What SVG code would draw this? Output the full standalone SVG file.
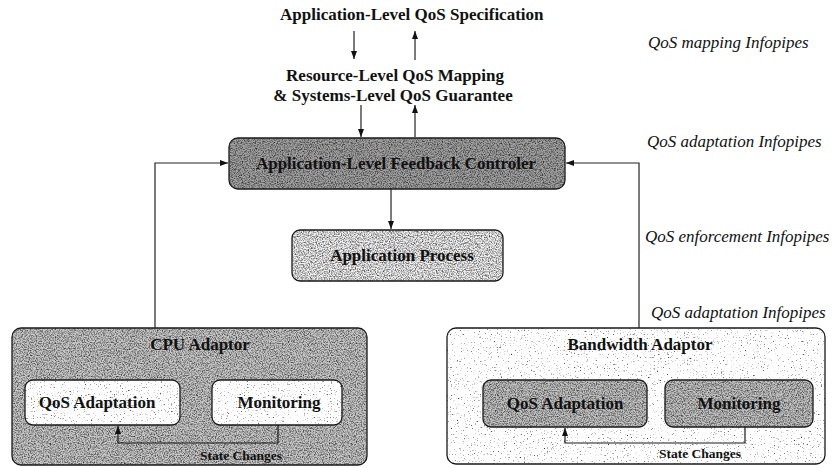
<svg xmlns="http://www.w3.org/2000/svg" width="837" height="468" viewBox="0 0 837 468">
  <defs>
    <style>
      .b { font-family: "Liberation Serif", "Times New Roman", serif; font-weight: bold; font-size: 17px; fill: #111; }
      .sm { font-family: "Liberation Serif", "Times New Roman", serif; font-weight: bold; font-size: 13.5px; fill: #111; }
      .it { font-family: "Liberation Serif", "Times New Roman", serif; font-style: italic; font-size: 17px; fill: #111; }
      .wire { fill: none; stroke: #1a1a1a; stroke-width: 1.2; }
      .edge { fill: none; stroke: #222; stroke-width: 1.2; }
      .frame { fill: none; stroke: #1a1a1a; stroke-width: 1.3; }
    </style>
    <marker id="arr" markerUnits="userSpaceOnUse" markerWidth="8" markerHeight="6" refX="8" refY="3" orient="auto">
      <path d="M0,0 L8,3 L0,6 z" fill="#111"/>
    </marker>
    <!-- halftone-like grain laid over a flat fill -->
    <filter id="grain" x="0" y="0" width="100%" height="100%" color-interpolation-filters="sRGB">
      <feTurbulence type="fractalNoise" baseFrequency="0.85" numOctaves="2" seed="7" result="t"/>
      <feColorMatrix in="t" type="matrix" values="0 0 0 0 0  0 0 0 0 0  0 0 0 0 0  1.6 0 0 0 -0.62" result="spots"/>
      <feComposite in="spots" in2="SourceGraphic" operator="in" result="clipped"/>
      <feMerge><feMergeNode in="SourceGraphic"/><feMergeNode in="clipped"/></feMerge>
    </filter>
    <!-- sparse specks for the pale panels -->
    <filter id="speck" x="0" y="0" width="100%" height="100%" color-interpolation-filters="sRGB">
      <feTurbulence type="fractalNoise" baseFrequency="0.7" numOctaves="2" seed="11" result="t"/>
      <feColorMatrix in="t" type="matrix" values="0 0 0 0 0  0 0 0 0 0  0 0 0 0 0  3.2 0 0 0 -2.05" result="spots"/>
      <feComposite in="spots" in2="SourceGraphic" operator="in" result="clipped"/>
      <feMerge><feMergeNode in="SourceGraphic"/><feMergeNode in="clipped"/></feMerge>
    </filter>
  </defs>

  <rect width="837" height="468" fill="#ffffff"/>

  <!-- side annotations -->
  <g id="layer-labels">
    <text class="it" x="648" y="48">QoS mapping Infopipes</text>
    <text class="it" x="647" y="147">QoS adaptation Infopipes</text>
    <text class="it" x="645" y="242">QoS enforcement Infopipes</text>
    <text class="it" x="651" y="318">QoS adaptation Infopipes</text>
  </g>

  <g id="app-spec">
    <text class="b" x="280" y="20">Application-Level QoS Specification</text>
  </g>

  <g id="resource-mapping">
    <text class="b" x="395" y="81" text-anchor="middle">Resource-Level QoS Mapping</text>
    <text class="b" x="393" y="101" text-anchor="middle">&amp; Systems-Level QoS Guarantee</text>
  </g>

  <g id="feedback-controller">
    <rect x="229" y="138" width="336" height="51" rx="9" fill="#a4a4a4" filter="url(#grain)"/>
    <rect x="229" y="138" width="336" height="51" rx="9" class="frame" stroke-width="1.5"/>
    <text class="b" x="396" y="169" text-anchor="middle">Application-Level Feedback Controler</text>
  </g>

  <g id="application-process">
    <rect x="292" y="230" width="211" height="51" rx="8" fill="#f2f2f2" filter="url(#grain)"/>
    <rect x="292" y="230" width="211" height="51" rx="8" class="frame"/>
    <text class="b" x="402" y="261" text-anchor="middle">Application Process</text>
  </g>

  <g id="cpu-adaptor">
    <rect x="12" y="328" width="355" height="137" rx="9" fill="#cacaca" filter="url(#grain)"/>
    <rect x="12" y="328" width="355" height="137" rx="9" class="frame"/>
    <text class="b" x="200" y="350" text-anchor="middle">CPU Adaptor</text>
    <g id="cpu-qos-adaptation">
      <rect x="25" y="380" width="155" height="45" rx="8" fill="#fdfdfd" filter="url(#speck)"/>
      <rect x="25" y="380" width="155" height="45" rx="8" class="frame"/>
      <text class="b" x="97" y="408" text-anchor="middle">QoS Adaptation</text>
    </g>
    <g id="cpu-monitoring">
      <rect x="212" y="380" width="130" height="45" rx="8" fill="#fdfdfd" filter="url(#speck)"/>
      <rect x="212" y="380" width="130" height="45" rx="8" class="frame"/>
      <text class="b" x="279" y="408" text-anchor="middle">Monitoring</text>
    </g>
    <polyline class="wire" points="278,425 278,443 118,443 118,426" marker-end="url(#arr)"/>
    <text class="sm" x="241" y="460" text-anchor="middle">State Changes</text>
  </g>

  <g id="bandwidth-adaptor">
    <rect x="447" y="328" width="378" height="136" rx="9" fill="#ffffff" filter="url(#speck)"/>
    <rect x="447" y="328" width="378" height="136" rx="9" class="frame"/>
    <text class="b" x="640" y="350" text-anchor="middle">Bandwidth Adaptor</text>
    <g id="bw-qos-adaptation">
      <rect x="483" y="380" width="164" height="47" rx="8" fill="#c4c4c4" filter="url(#grain)"/>
      <rect x="483" y="380" width="164" height="47" rx="8" class="frame"/>
      <text class="b" x="565" y="409" text-anchor="middle">QoS Adaptation</text>
    </g>
    <g id="bw-monitoring">
      <rect x="665" y="380" width="148" height="47" rx="8" fill="#c4c4c4" filter="url(#grain)"/>
      <rect x="665" y="380" width="148" height="47" rx="8" class="frame"/>
      <text class="b" x="739" y="409" text-anchor="middle">Monitoring</text>
    </g>
    <polyline class="wire" points="745,427 745,443 565,443 565,428" marker-end="url(#arr)"/>
    <text class="sm" x="700" y="458" text-anchor="middle">State Changes</text>
  </g>

  <g id="connectors">
    <line class="edge" x1="354" y1="31" x2="354" y2="59" marker-end="url(#arr)"/>
    <line class="edge" x1="415" y1="60" x2="415" y2="31" marker-end="url(#arr)"/>
    <line class="edge" x1="361" y1="105" x2="361" y2="137" marker-end="url(#arr)"/>
    <line class="edge" x1="415" y1="137" x2="415" y2="105" marker-end="url(#arr)"/>
    <line class="edge" x1="391" y1="189" x2="391" y2="229" marker-end="url(#arr)"/>
    <polyline class="edge" points="155,328 155,163 228,163" marker-end="url(#arr)"/>
    <polyline class="edge" points="639,328 639,163 566,163" marker-end="url(#arr)"/>
  </g>
</svg>
